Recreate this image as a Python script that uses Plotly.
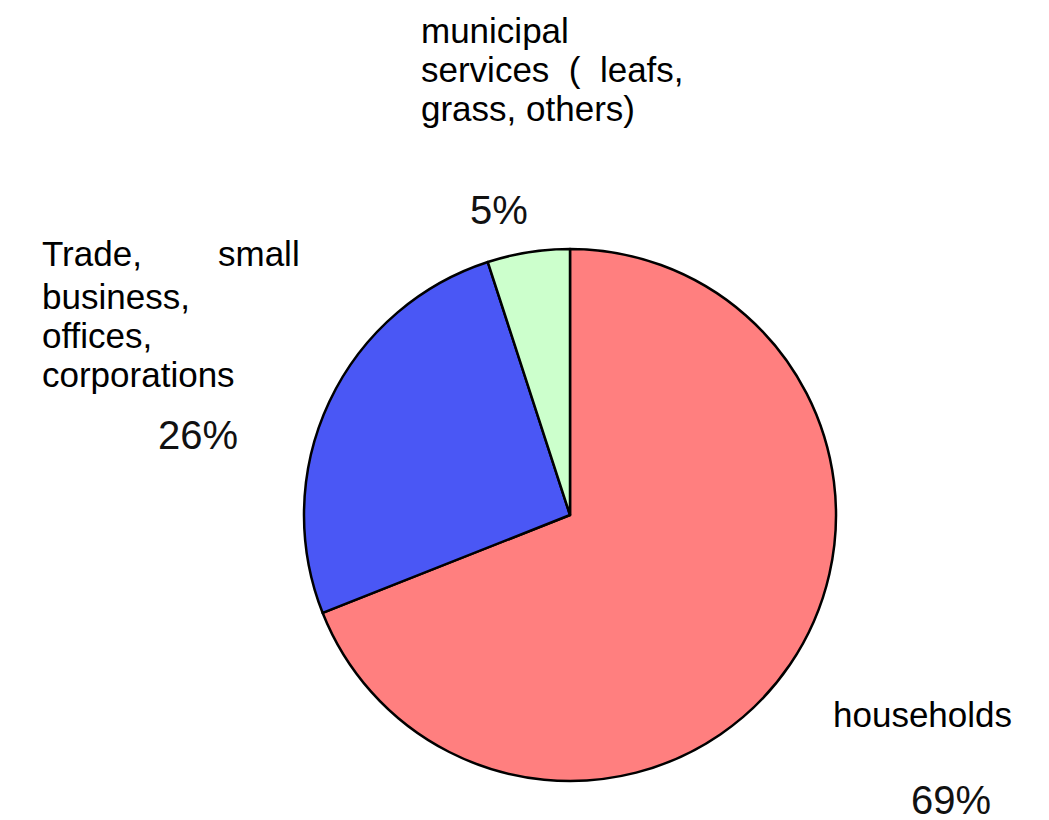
import plotly.graph_objects as go

categories = ["households", "Trade, small business, offices, corporations", "municipal services ( leafs, grass, others)"]
values = [69, 26, 5]
colors = ["#FF7F7F", "#4A57F5", "#CCFFCC"]
pct_labels = ["69%", "26%", "5%"]

W, H = 1049, 820
OFF = 8  # page body margin


def px2x(px):
    return (px - OFF) / W


def py2y(py):
    return 1 - (py - OFF) / H


fig = go.Figure(go.Pie(
    labels=categories,
    values=values,
    sort=False,
    direction="clockwise",
    rotation=0,
    marker=dict(colors=colors, line=dict(color="black", width=2.5)),
    textinfo="none",
    hoverinfo="label+percent",
    showlegend=False,
    domain=dict(x=[px2x(304), px2x(836)], y=[py2y(781), py2y(249)]),
))

FONT = dict(family="Liberation Sans, Arial, sans-serif", size=35, color="black")
PFONT = dict(family="Liberation Sans, Arial, sans-serif", size=40, color="#111111")


def ann(text, px, py, xanchor="left", font=FONT):
    fig.add_annotation(text=text, x=px2x(px), y=py2y(py), xref="paper", yref="paper",
                       xanchor=xanchor, yanchor="middle", showarrow=False, font=font,
                       borderpad=0)


# municipal label
ann("municipal", 420, 30)
ann("services&nbsp;&nbsp;(&nbsp;&nbsp;leafs,", 420, 70)
ann("grass, others)", 420, 108)
ann(pct_labels[2], 499, 210, "center", PFONT)

# trade label
ann("Trade,", 41, 253)
ann("small", 301, 253, "right")
ann("business,", 41, 296)
ann("offices,", 41, 335)
ann("corporations", 41, 375)
ann(pct_labels[1], 198, 435, "center", PFONT)

# households
ann(categories[0], 832, 714)
ann(pct_labels[0], 951, 800, "center", PFONT)

fig.update_layout(
    width=W, height=H,
    margin=dict(l=0, r=0, t=0, b=0),
    paper_bgcolor="white", plot_bgcolor="white",
)

fig.write_html("out.html")
